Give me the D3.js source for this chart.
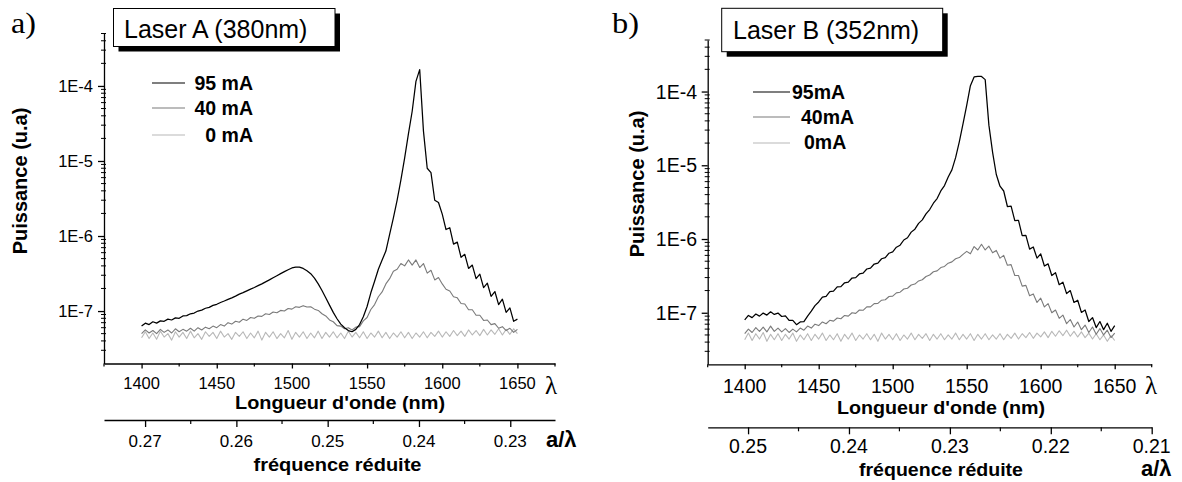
<!DOCTYPE html>
<html>
<head>
<meta charset="utf-8">
<script src="https://cdn.jsdelivr.net/npm/d3@7"></script>
<style>
  html, body { margin: 0; padding: 0; background: #ffffff; }
  svg { display: block; }
</style>
</head>
<body>
<svg id="chart" width="1182" height="482"></svg>
<script>
// ---------------- DATA ----------------
// sampling grid (nm)
const wavelengths = [
  1400,1402.5,1405,1407.5,1410,1412.5,1415,1417.5,1420,1422.5,
  1425,1427.5,1430,1432.5,1435,1437.5,1440,1442.5,1445,1447.5,
  1450,1452.5,1455,1457.5,1460,1462.5,1465,1467.5,1470,1472.5,
  1475,1477.5,1480,1482.5,1485,1487.5,1490,1492.5,1495,1497.5,
  1500,1502.5,1505,1507.5,1510,1512.5,1515,1517.5,1520,1522.5,
  1525,1527.5,1530,1532.5,1535,1537.5,1540,1542.5,1545,1547.5,
  1550,1552.5,1555,1557.5,1560,1562.5,1565,1567.5,1570,1572.5,
  1575,1577.5,1580,1582.5,1585,1587.5,1590,1592.5,1595,1597.5,
  1600,1602.5,1605,1607.5,1610,1612.5,1615,1617.5,1620,1622.5,
  1625,1627.5,1630,1632.5,1635,1637.5,1640,1642.5,1645,1647.5,
  1650
];
// power values below are in units of 1E-8 (u.a)
const powerUnit = 1e-8;

// Laser A (380nm)
const laserA_95mA = [
  6.3, 6.9, 6.6, 7.2, 6.9, 7.4, 7.3, 7.8, 7.6, 8.1,
  8.0, 8.6, 8.7, 9.2, 9.4, 10.0, 10.3, 10.9, 11.2, 11.9,
  12.3, 13.0, 13.6, 14.3, 15.0, 15.8, 16.8, 17.6, 18.6, 19.6,
  20.6, 21.8, 23.0, 24.5, 26.0, 27.8, 29.6, 31.5, 33.5, 35.5,
  37.5, 38.6, 38.4, 37.0, 34.5, 31.5, 27.5, 23.0, 18.8, 15.0,
  12.0, 9.6, 7.9, 6.7, 6.0, 5.5, 5.3, 5.7, 6.6, 8.4,
  11.5, 17.5, 25, 36, 48, 63, 105, 175, 300, 560,
  1100, 2300, 4600, 11500, 16500, 2500, 800, 700, 300, 280,
  196, 122, 129, 78, 83, 52, 57, 37, 41, 27,
  31, 20.5, 23.5, 15.7, 18.2, 12.2, 14.4, 9.6, 11, 7.3,
  7.8
];
const laserA_40mA = [
  5.0, 5.6, 5.1, 5.5, 5.0, 5.7, 5.2, 5.6, 5.1, 5.8,
  5.3, 5.7, 5.4, 5.9, 5.4, 6.0, 5.6, 6.1, 5.8, 6.3,
  6.0, 6.6, 6.3, 7.0, 6.7, 7.3, 7.1, 7.8, 7.5, 8.2,
  8.0, 8.6, 8.5, 9.2, 9.0, 9.7, 9.5, 10.2, 10.0, 10.8,
  10.6, 11.4, 11.2, 11.8, 11.3, 11.4, 10.6, 10.2, 9.2, 8.6,
  7.6, 7.2, 6.4, 6.3, 5.8, 6.0, 5.6, 6.1, 6.2, 7.4,
  8.2, 10.5, 12.2, 15.5, 18, 23, 27, 34, 36, 43,
  40, 48, 41, 48, 38, 43, 32, 35, 26, 28,
  23, 19.5, 18.5, 15.5, 15, 12.6, 12.4, 10.4, 10.4, 8.8,
  8.8, 7.5, 7.6, 6.6, 6.8, 5.9, 6.2, 5.5, 5.9, 5.2,
  5.7
];
const laserA_0mA = [
  4.4, 5.3, 4.3, 5.1, 4.2, 5.4, 4.5, 5.0, 4.1, 5.3,
  4.5, 5.2, 4.3, 5.4, 4.4, 5.0, 4.2, 5.3, 4.6, 5.2,
  4.3, 5.4, 4.5, 5.0, 4.2, 5.2, 4.6, 5.3, 4.3, 5.1,
  4.4, 5.4, 4.1, 5.2, 4.5, 5.3, 4.3, 5.0, 4.4, 5.5,
  4.2, 5.2, 4.5, 5.3, 4.3, 5.1, 4.4, 5.4, 4.3, 5.2,
  4.5, 5.3, 4.4, 5.1, 4.3, 5.4, 4.5, 5.2, 4.4, 5.3,
  4.3, 5.1, 4.5, 5.4, 4.4, 5.2, 4.3, 5.1, 4.5, 5.3,
  4.4, 5.2, 4.3, 5.1, 4.5, 5.3, 4.4, 5.2, 4.6, 5.4,
  4.5, 5.3, 4.6, 5.5, 4.7, 5.4, 4.6, 5.6, 4.8, 5.5,
  4.7, 5.7, 4.8, 5.6, 4.9, 5.8, 4.8, 5.7, 4.9, 5.8,
  5.0
];

// Laser B (352nm)
const laserB_95mA = [
  8.0, 9.2, 8.6, 9.6, 9.0, 9.9, 9.3, 10.3, 9.5, 9.9,
  8.9, 9.1, 7.9, 7.9, 6.9, 7.5, 7.6, 9.0, 10.5, 12.5,
  14.0, 16.3, 16.7, 19.4, 19.6, 22.4, 22.6, 25.5, 26.0, 29.6,
  30.0, 33.6, 34.4, 39.2, 40.3, 45.8, 47.2, 54.0, 56.0, 64.2,
  67, 77.5, 82.5, 97, 104, 124, 136, 163, 182, 219,
  251, 306, 354, 449, 531, 694, 866, 1270, 2080, 3650,
  6500, 12000, 15800, 16000, 16000, 14500, 3500, 1500, 750, 520,
  448, 276, 280, 178, 179, 111, 112, 73, 78, 55,
  63, 43, 46, 32, 35, 24, 26, 18.2, 20, 13.8,
  14.8, 10.1, 10.9, 7.6, 8.6, 6.3, 7.6, 5.9, 7.2, 5.6,
  6.7
];
const laserB_40mA = [
  5.2, 6.0, 5.4, 6.3, 5.6, 6.4, 5.5, 6.6, 5.6, 6.2,
  5.5, 6.1, 5.4, 6.0, 5.5, 6.2, 5.8, 6.6, 6.2, 7.0,
  6.7, 7.5, 7.1, 7.9, 7.7, 8.5, 8.3, 9.2, 9.0, 10.0,
  9.8, 10.9, 10.8, 12.0, 12.0, 13.3, 13.4, 14.8, 15.0, 16.6,
  16.8, 18.6, 19.0, 21.0, 21.5, 23.8, 24.5, 27.0, 28.0, 31.0,
  32.5, 36.0, 37.0, 41.0, 42.5, 47.0, 49.0, 54.0, 56.0, 62.0,
  68, 63, 79, 71, 85, 71, 80, 65, 70, 55,
  60, 44, 45, 32, 32, 23, 23.5, 17, 18, 13.8,
  15.8, 12, 13.3, 10, 10.9, 8.4, 9.3, 7.1, 8.1, 6.4,
  7.5, 5.9, 6.8, 5.4, 6.4, 5.1, 6.1, 5.0, 5.8, 4.6,
  5.3
];
const laserB_0mA = [
  4.3, 5.3, 4.2, 5.2, 4.4, 5.4, 4.1, 5.1, 4.3, 5.2,
  4.2, 5.1, 4.4, 5.3, 4.1, 5.0, 4.3, 5.2, 4.2, 5.1,
  4.4, 5.3, 4.2, 5.0, 4.3, 5.2, 4.1, 5.1, 4.4, 5.3,
  4.2, 5.0, 4.4, 5.2, 4.3, 5.1, 4.1, 5.3, 4.4, 5.1,
  4.3, 5.2, 4.2, 5.0, 4.4, 5.3, 4.3, 5.1, 4.5, 5.2,
  4.2, 5.1, 4.4, 5.2, 4.3, 5.0, 4.4, 5.3, 4.3, 5.1,
  4.4, 5.2, 4.2, 5.1, 4.4, 5.2, 4.3, 5.0, 4.4, 5.2,
  4.3, 5.1, 4.5, 5.3, 4.4, 5.2, 4.6, 5.4, 4.5, 5.3,
  4.7, 5.5, 4.6, 5.6, 4.8, 5.7, 4.9, 5.8, 4.8, 5.6,
  4.7, 5.5, 4.6, 5.3, 4.4, 5.2, 4.3, 5.0, 4.1, 4.9,
  4.2
];

// axes
const wavelengthDomain = [1375, 1675];
const wavelengthTicks = [1400, 1450, 1500, 1550, 1600, 1650];
const wavelengthMinorTicks = [1375, 1425, 1475, 1525, 1575, 1625, 1675];
const powerDomain = [2e-8, 5e-4];
const powerTicks = [1e-4, 1e-5, 1e-6, 1e-7];
const powerTickLabels = ["1E-4", "1E-5", "1E-6", "1E-7"];
const powerMinorTicks = [
  3e-8, 4e-8, 5e-8, 6e-8, 7e-8, 8e-8, 9e-8,
  2e-7, 3e-7, 4e-7, 5e-7, 6e-7, 7e-7, 8e-7, 9e-7,
  2e-6, 3e-6, 4e-6, 5e-6, 6e-6, 7e-6, 8e-6, 9e-6,
  2e-5, 3e-5, 4e-5, 5e-5, 6e-5, 7e-5, 8e-5, 9e-5,
  2e-4, 3e-4, 4e-4, 5e-4
];
const freqDomainA = [0.2745, 0.2251];
const freqTicksA = [0.27, 0.26, 0.25, 0.24, 0.23];
const freqMinorTicksA = [0.265, 0.255, 0.245, 0.235];
const freqDomainB = [0.254, 0.21];
const freqTicksB = [0.25, 0.24, 0.23, 0.22, 0.21];
const freqMinorTicksB = [0.245, 0.235, 0.225, 0.215];

const legendLabelsA = ["95 mA", "40 mA", "0 mA"];
const legendLabelsB = ["95mA", "40mA", "0mA"];
const seriesColors = ["#000000", "#7a7a7a", "#b8b8b8"];
const seriesWidths = [1.25, 1.1, 1.1];

// ---------------- DRAWING ----------------
const SANS = "'Liberation Sans', Arial, Helvetica, sans-serif";
const SERIF = "'Liberation Serif', 'Times New Roman', serif";
const svg = d3.select("#chart");

function drawPanel(cfg) {
  const g = svg.append("g");
  const x = d3.scaleLinear().domain(wavelengthDomain).range([cfg.x0, cfg.x1]);
  const y = d3.scaleLog().domain(powerDomain).range([cfg.yBottom, cfg.yTop]);
  const f = d3.scaleLinear().domain(cfg.freqDomain).range([cfg.x0, cfg.x1]);

  // curves (0 mA first, 95 mA on top)
  const line = d3.line()
    .x((d, i) => x(wavelengths[i]))
    .y(d => y(d * powerUnit));
  [2, 1, 0].forEach(k => {
    g.append("path")
      .attr("d", line(cfg.series[k]))
      .attr("fill", "none")
      .attr("stroke", seriesColors[k])
      .attr("stroke-width", seriesWidths[k])
      .attr("stroke-linejoin", "round");
  });

  // y axis
  const yAxis = g.append("g")
    .attr("transform", `translate(${cfg.x0},0)`)
    .call(d3.axisLeft(y).tickValues(powerTicks).tickSize(6).tickSizeOuter(0).tickFormat(""));
  yAxis.selectAll("path, line").attr("stroke", "#000").attr("stroke-width", 1.3);
  g.selectAll(null).data(powerMinorTicks).enter().append("line")
    .attr("x1", cfg.x0 - 3).attr("x2", cfg.x0 + 2)
    .attr("y1", d => y(d)).attr("y2", d => y(d))
    .attr("stroke", "#000").attr("stroke-width", 1);
  g.selectAll(null).data(powerTicks).enter().append("text")
    .attr("x", cfg.yLabelRight)
    .attr("y", d => y(d) + cfg.yLabelDy)
    .attr("text-anchor", "end")
    .attr("font-family", SANS).attr("font-size", cfg.numFont)
    .text((d, i) => powerTickLabels[i]);

  // x axis (wavelength)
  const xAxis = g.append("g")
    .attr("transform", `translate(0,${cfg.yBottom})`)
    .call(d3.axisBottom(x).tickValues(wavelengthTicks).tickSize(5).tickSizeOuter(0).tickFormat(""));
  xAxis.selectAll("path, line").attr("stroke", "#000").attr("stroke-width", 1.3);
  g.selectAll(null).data(wavelengthMinorTicks).enter().append("line")
    .attr("x1", d => x(d)).attr("x2", d => x(d))
    .attr("y1", cfg.yBottom).attr("y2", cfg.yBottom + 3)
    .attr("stroke", "#000").attr("stroke-width", 1.2);
  g.selectAll(null).data(wavelengthTicks).enter().append("text")
    .attr("x", d => x(d)).attr("y", cfg.xLabelBase)
    .attr("text-anchor", "middle")
    .attr("font-family", SANS).attr("font-size", cfg.numFont)
    .text(d => d);

  // second axis (reduced frequency)
  const fAxis = g.append("g")
    .attr("transform", `translate(0,${cfg.freqAxisY})`)
    .call(d3.axisBottom(f).tickValues(cfg.freqTicks).tickSize(7).tickSizeOuter(0).tickFormat(""));
  fAxis.selectAll("path, line").attr("stroke", "#000").attr("stroke-width", 1.3);
  g.selectAll(null).data(cfg.freqMinor).enter().append("line")
    .attr("x1", d => f(d)).attr("x2", d => f(d))
    .attr("y1", cfg.freqAxisY).attr("y2", cfg.freqAxisY + 4)
    .attr("stroke", "#000").attr("stroke-width", 1.2);
  g.selectAll(null).data(cfg.freqTicks).enter().append("text")
    .attr("x", d => f(d)).attr("y", cfg.freqLabelBase)
    .attr("text-anchor", "middle")
    .attr("font-family", SANS).attr("font-size", cfg.freqFont)
    .text(d => d3.format(".2f")(d));

  // axis titles
  g.append("text")
    .attr("x", cfg.nmTitleX).attr("y", cfg.nmTitleBase)
    .attr("text-anchor", "middle").attr("font-family", SANS)
    .attr("font-size", 17.5).attr("font-weight", "bold")
    .attr("textLength", cfg.nmTitleLen).attr("lengthAdjust", "spacingAndGlyphs")
    .text("Longueur d'onde (nm)");
  g.append("text")
    .attr("x", cfg.freqTitleX).attr("y", cfg.freqTitleBase)
    .attr("text-anchor", "middle").attr("font-family", SANS)
    .attr("font-size", 17.5).attr("font-weight", "bold")
    .attr("textLength", cfg.freqTitleLen).attr("lengthAdjust", "spacingAndGlyphs")
    .text("fréquence réduite");
  g.append("text")
    .attr("transform", `translate(${cfg.yTitleX},${cfg.yTitleY}) rotate(-90)`)
    .attr("text-anchor", "middle").attr("font-family", SANS)
    .attr("font-size", 20).attr("font-weight", "bold")
    .text("Puissance (u.a)");
  g.append("text")
    .attr("x", cfg.lambdaX).attr("y", cfg.lambdaBase)
    .attr("font-family", SERIF).attr("font-size", 25)
    .text("λ");
  g.append("text")
    .attr("x", cfg.aLambdaX).attr("y", cfg.aLambdaBase)
    .attr("font-family", SANS).attr("font-size", 22).attr("font-weight", "bold")
    .text("a/λ");

  // panel letter
  g.append("text")
    .attr("x", cfg.letterX).attr("y", cfg.letterBase)
    .attr("font-family", SERIF).attr("font-size", 29)
    .attr("textLength", cfg.letterLen).attr("lengthAdjust", "spacingAndGlyphs")
    .text(cfg.letter);

  // title box with shadow
  g.append("rect")
    .attr("x", cfg.box[0] + 5).attr("y", cfg.box[1] + 5)
    .attr("width", cfg.box[2]).attr("height", cfg.box[3])
    .attr("fill", "#000");
  g.append("rect")
    .attr("x", cfg.box[0]).attr("y", cfg.box[1])
    .attr("width", cfg.box[2]).attr("height", cfg.box[3])
    .attr("fill", "#fff").attr("stroke", "#000").attr("stroke-width", 1);
  g.append("text")
    .attr("x", cfg.boxTextX).attr("y", cfg.boxTextBase)
    .attr("font-family", SANS).attr("font-size", 25)
    .text(cfg.title);

  // legend
  cfg.legendLabels.forEach((lab, k) => {
    g.append("line")
      .attr("x1", cfg.legLineX[0]).attr("x2", cfg.legLineX[1])
      .attr("y1", cfg.legY[k]).attr("y2", cfg.legY[k])
      .attr("stroke", seriesColors[k]).attr("stroke-width", 1.2);
    g.append("text")
      .attr("x", cfg.legTextX[k]).attr("y", cfg.legTextBase[k])
      .attr("text-anchor", cfg.legAnchor)
      .attr("font-family", SANS).attr("font-size", 19.5).attr("font-weight", "bold")
      .text(lab);
  });
}

drawPanel({
  series: [laserA_95mA, laserA_40mA, laserA_0mA],
  x0: 104, x1: 555, yTop: 33.5, yBottom: 363.5,
  freqDomain: freqDomainA, freqTicks: freqTicksA, freqMinor: freqMinorTicksA,
  freqAxisY: 420,
  numFont: 16.5, freqFont: 17, yLabelRight: 93, yLabelDy: 5.8,
  xLabelBase: 389, freqLabelBase: 446.5,
  nmTitleX: 340, nmTitleBase: 409, nmTitleLen: 210,
  freqTitleX: 337.5, freqTitleBase: 470.5, freqTitleLen: 168,
  yTitleX: 27, yTitleY: 181,
  lambdaX: 545, lambdaBase: 394, aLambdaX: 546, aLambdaBase: 446.5,
  letter: "a)", letterX: 11, letterBase: 33, letterLen: 25,
  box: [113.5, 8.5, 221.5, 38], title: "Laser A (380nm)", boxTextX: 124, boxTextBase: 37.5,
  legendLabels: legendLabelsA, legLineX: [152, 185], legY: [83, 108, 135],
  legTextX: [253, 253, 253], legTextBase: [90, 115, 141.5], legAnchor: "end"
});

drawPanel({
  series: [laserB_95mA, laserB_40mA, laserB_0mA],
  x0: 707.7, x1: 1151.7, yTop: 40, yBottom: 364.3,
  freqDomain: freqDomainB, freqTicks: freqTicksB, freqMinor: freqMinorTicksB,
  freqAxisY: 427.3,
  numFont: 19.5, freqFont: 19.5, yLabelRight: 697, yLabelDy: 7,
  xLabelBase: 392.5, freqLabelBase: 453,
  nmTitleX: 941, nmTitleBase: 414, nmTitleLen: 208,
  freqTitleX: 941, freqTitleBase: 475.5, freqTitleLen: 164,
  yTitleX: 644, yTitleY: 184,
  lambdaX: 1145, lambdaBase: 394, aLambdaX: 1141, aLambdaBase: 476,
  letter: "b)", letterX: 612, letterBase: 33, letterLen: 27,
  box: [721.7, 8.3, 221, 43.4], title: "Laser B (352nm)", boxTextX: 733, boxTextBase: 38.5,
  legendLabels: legendLabelsB, legLineX: [753, 790], legY: [92, 117, 143],
  legTextX: [792, 801, 804], legTextBase: [98.5, 123.5, 148.5], legAnchor: "start"
});
</script>
</body>
</html>
